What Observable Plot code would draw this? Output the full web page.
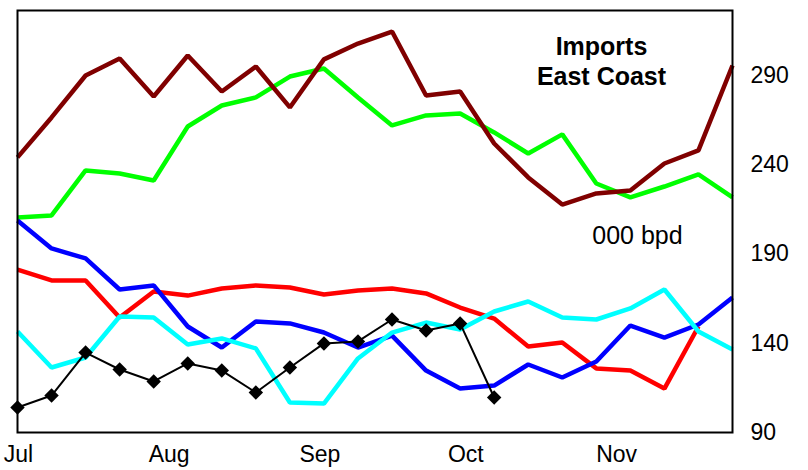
<!DOCTYPE html>
<html>
<head>
<meta charset="utf-8">
<script src="https://cdn.jsdelivr.net/npm/d3@7"></script>
<script src="https://cdn.jsdelivr.net/npm/@observablehq/plot@0.6"></script>
<style>
  html, body { margin: 0; padding: 0; background: #fff; }
  #chart { width: 808px; height: 470px; overflow: hidden; }
</style>
</head>
<body>
<div id="chart"></div>
<script>
// Weekly observation dates
const weeks = [
  "2000-06-30","2000-07-07","2000-07-14","2000-07-21","2000-07-28",
  "2000-08-04","2000-08-11","2000-08-18","2000-08-25","2000-09-01",
  "2000-09-08","2000-09-15","2000-09-22","2000-09-29","2000-10-06",
  "2000-10-13","2000-10-20","2000-10-27","2000-11-03","2000-11-10",
  "2000-11-17","2000-11-24"
];
// Month tick marks
const monthTicks = ["2000-07-01","2000-08-01","2000-09-01","2000-10-01","2000-11-01"];
const monthLabels = ["Jul","Aug","Sep","Oct","Nov"];
// Right-axis ticks (000 bpd)
const yTicks = [90, 140, 190, 240, 290];

// Series (000 bpd)
const darkRedSeries = [244.1, 266.5, 290.0, 299.5, 278.2, 301.2, 281.0, 295.0, 272.1, 299.0, 307.9,
                       314.6, 278.8, 281.0, 251.9, 232.9, 217.7, 223.9, 225.6, 240.7, 248.0, 295.6];
const greenSeries   = [210.4, 211.6, 236.8, 235.1, 231.2, 261.4, 273.2, 277.7, 289.4, 293.9, 277.7,
                       262.0, 267.6, 268.7, 258.1, 246.3, 257.0, 229.5, 221.7, 227.8, 234.6, 221.7];
const redSeries     = [181.3, 175.2, 175.2, 154.4, 169.0, 166.7, 170.7, 172.4, 171.2, 167.3, 169.6,
                       170.7, 167.9, 160.0, 153.8, 138.2, 140.4, 125.9, 124.7, 114.6, 149.4, null];
const blueSeries    = [208.8, 193.1, 187.5, 170.1, 172.4, 149.4, 137.6, 152.2, 151.1, 146.0, 137.6,
                       144.3, 124.7, 114.6, 116.3, 128.1, 120.8, 129.8, 149.9, 143.2, 150.5, 165.6];
const cyanSeries    = [146.6, 126.4, 132.0, 155.0, 154.4, 139.3, 142.7, 137.1, 106.8, 106.2, 131.5,
                       146.0, 151.6, 147.7, 157.8, 163.4, 154.4, 153.3, 159.5, 170.1, 146.6, 136.5];
const blackSeries   = [104.0, 110.7, 134.8, 125.3, 118.6, 128.7, 124.7, 112.4, 126.4, 139.9, 141.0,
                       153.3, 147.1, 151.1, 109.6];

const titleText = "Imports\nEast Coast";
const unitText = "000 bpd";

const parse = d3.utcParse("%Y-%m-%d");
const dates = weeks.map(parse);
const tickDates = monthTicks.map(parse);
const toRows = (vals) => vals.map((v, i) => ({date: dates[i], value: v})).filter(d => d.value != null);

const lineStyle = {x: "date", y: "value", strokeWidth: 4.5, strokeLinejoin: "miter", strokeLinecap: "butt"};
const font = "'Liberation Sans', Arial, Helvetica, sans-serif";

const chart = Plot.plot({
  width: 808,
  height: 470,
  marginLeft: 17,
  marginRight: 76,
  marginTop: 10,
  marginBottom: 38,
  style: {fontFamily: font, background: "#fff", color: "#000", overflow: "hidden"},
  x: {type: "utc", domain: [dates[0], dates[dates.length - 1]]},
  y: {domain: [90, 326.4]},
  marks: [
    Plot.line(toRows(greenSeries), {...lineStyle, stroke: "#00ff00"}),
    Plot.line(toRows(darkRedSeries), {...lineStyle, stroke: "#800000"}),
    Plot.line(toRows(redSeries), {...lineStyle, stroke: "#ff0000"}),
    Plot.line(toRows(blueSeries), {...lineStyle, stroke: "#0000ff"}),
    Plot.line(toRows(cyanSeries), {...lineStyle, stroke: "#00ffff"}),
    Plot.line(toRows(blackSeries), {x: "date", y: "value", stroke: "#000", strokeWidth: 2, strokeLinejoin: "miter"}),
    Plot.dot(toRows(blackSeries), {x: "date", y: "value", symbol: "diamond2", r: 6.5, fill: "#000", stroke: "none"}),
    Plot.frame({stroke: "#000", strokeWidth: 2}),
    Plot.axisX({ticks: tickDates, tickFormat: (d) => monthLabels[tickDates.findIndex(t => +t === +d)],
                tickSize: 0, tickPadding: 13, fontSize: 23, label: null, anchor: "bottom", dx: -4}),
    Plot.axisY({ticks: yTicks, tickSize: 0, tickPadding: 18, fontSize: 23, label: null, anchor: "right", textAnchor: "start"}),
    Plot.text([titleText], {frameAnchor: "top-right", text: d => d, textAnchor: "middle", dx: -131, dy: 23,
                            fontSize: 25, fontWeight: "bold", lineHeight: 1.2, fill: "#000"}),
    Plot.text([unitText], {frameAnchor: "right", text: d => d, textAnchor: "middle", dx: -95, dy: 14,
                           fontSize: 25, fill: "#000"})
  ]
});
document.getElementById("chart").appendChild(chart);
</script>
</body>
</html>
